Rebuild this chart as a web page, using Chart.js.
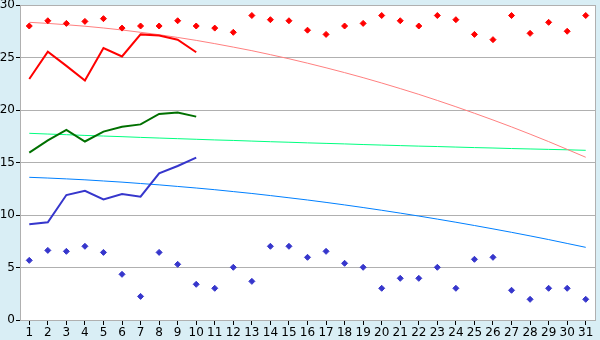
<!DOCTYPE html>
<html>
<head>
<meta charset="utf-8">
<script src="https://cdn.jsdelivr.net/npm/chart.js@4"></script>
<style>
  html, body { margin: 0; padding: 0; background: #d9eef5; }
  canvas { display: block; }
</style>
</head>
<body>
<canvas id="chart" width="600" height="340"></canvas>
<script>
// Days of the month
const days = Array.from({ length: 31 }, (_, i) => String(i + 1));

// Measured lines (first 10 days)
const redLine   = [22.95, 25.55, 24.2, 22.8, 25.9, 25.1, 27.2, 27.1, 26.7, 25.5];
const greenLine = [15.94, 17.1, 18.1, 17.0, 17.94, 18.4, 18.63, 19.62, 19.75, 19.37];
const blueLine  = [9.11, 9.3, 11.9, 12.3, 11.49, 12.0, 11.75, 13.97, 14.67, 15.46];

// Scatter points (whole month)
const redPoints = [28.0, 28.5, 28.25, 28.44, 28.7, 27.8, 28.0, 28.0, 28.5, 28.0,
                   27.8, 27.4, 29.0, 28.6, 28.5, 27.6, 27.2, 28.0, 28.25, 29.0,
                   28.5, 28.0, 29.0, 28.6, 27.2, 26.7, 29.0, 27.3, 28.35, 27.5, 29.0];
const bluePoints = [5.68, 6.63, 6.54, 7.02, 6.44, 4.35, 2.25, 6.44, 5.3, 3.4,
                    3.02, 5.02, 3.68, 7.02, 7.02, 5.97, 6.54, 5.4, 5.02, 3.02,
                    3.97, 3.97, 5.02, 3.02, 5.78, 5.97, 2.83, 1.97, 3.02, 3.02, 1.97];

// Trend curves
const redTrend = [28.35, 28.25, 28.12, 27.98, 27.81, 27.62, 27.40, 27.17, 26.91, 26.63,
                  26.32, 25.99, 25.65, 25.27, 24.88, 24.46, 24.02, 23.56, 23.08, 22.57,
                  22.04, 21.49, 20.91, 20.31, 19.69, 19.05, 18.39, 17.70, 16.99, 16.25, 15.5];
const greenTrend = [17.78, 17.71, 17.65, 17.58, 17.52, 17.46, 17.39, 17.33, 17.27, 17.21,
                    17.15, 17.10, 17.04, 16.98, 16.93, 16.87, 16.82, 16.77, 16.71, 16.66,
                    16.61, 16.56, 16.52, 16.47, 16.42, 16.38, 16.33, 16.29, 16.25, 16.21, 16.16];
const blueTrend = [13.59, 13.52, 13.44, 13.35, 13.24, 13.13, 13.00, 12.87, 12.72, 12.57,
                   12.41, 12.23, 12.05, 11.85, 11.64, 11.43, 11.20, 10.96, 10.71, 10.45,
                   10.18, 9.90, 9.61, 9.31, 9.00, 8.68, 8.35, 8.01, 7.66, 7.29, 6.92];

const yTicks = [0, 5, 10, 15, 20, 25, 30];

// Paint the page background, the white plot area and the frame
const frame = {
  id: "frame",
  beforeDraw(chart) {
    const { ctx, chartArea: a } = chart;
    ctx.save();
    ctx.fillStyle = "#d9eef5";
    ctx.fillRect(0, 0, chart.width, chart.height);
    ctx.fillStyle = "#ffffff";
    ctx.fillRect(a.left, a.top, a.right - a.left, a.bottom - a.top);
    ctx.restore();
  },
  afterDraw(chart) {
    const { ctx, chartArea: a } = chart;
    ctx.save();
    ctx.strokeStyle = "#b0b0b0";
    ctx.lineWidth = 1;
    ctx.beginPath();
    ctx.moveTo(Math.round(a.right) + 0.5, a.top);
    ctx.lineTo(Math.round(a.right) + 0.5, a.bottom);
    ctx.stroke();
    ctx.restore();
  }
};

const line = (data, color, width) => ({
  data, borderColor: color, backgroundColor: color, borderWidth: width,
  pointRadius: 0, tension: 0, fill: false
});
const dots = (data, color) => ({
  data, showLine: false, borderColor: color, backgroundColor: color,
  pointStyle: "rectRot", pointRadius: 3, borderWidth: 1
});

new Chart(document.getElementById("chart"), {
  type: "line",
  data: {
    labels: days,
    datasets: [
      line(redLine, "#ff0000", 2),
      line(greenLine, "#007000", 2),
      line(blueLine, "#3636cc", 2),
      dots(redPoints, "#ff0000"),
      dots(bluePoints, "#3636cc"),
      line(redTrend, "#ff8080", 1),
      line(greenTrend, "#00ff80", 1),
      line(blueTrend, "#0080ff", 1)
    ]
  },
  options: {
    responsive: false,
    animation: false,
    layout: { padding: { top: 5, right: 5, left: 0, bottom: 0 } },
    plugins: { legend: { display: false }, tooltip: { enabled: false } },
    scales: {
      x: {
        offset: true,
        afterFit: s => { s.height = 20; s.paddingLeft = 0; s.paddingRight = 0; },
        border: { color: "#b0b0b0" },
        grid: { drawOnChartArea: false, tickColor: "#000000", tickLength: 5 },
        ticks: { color: "#000000", font: { family: "DejaVu Sans", size: 12 }, padding: 1,
                 maxRotation: 0, autoSkip: false }
      },
      y: {
        min: 0, max: 30,
        afterFit: s => { s.width = 20; s.paddingTop = 0; s.paddingBottom = 0; },
        afterBuildTicks: s => { s.ticks = yTicks.map(v => ({ value: v })); },
        border: { color: "#b0b0b0" },
        grid: { color: "#b0b0b0", tickColor: "#000000", tickLength: 4 },
        ticks: { color: "#000000", font: { family: "DejaVu Sans", size: 12 }, padding: 1 }
      }
    }
  },
  plugins: [frame]
});
</script>
</body>
</html>
